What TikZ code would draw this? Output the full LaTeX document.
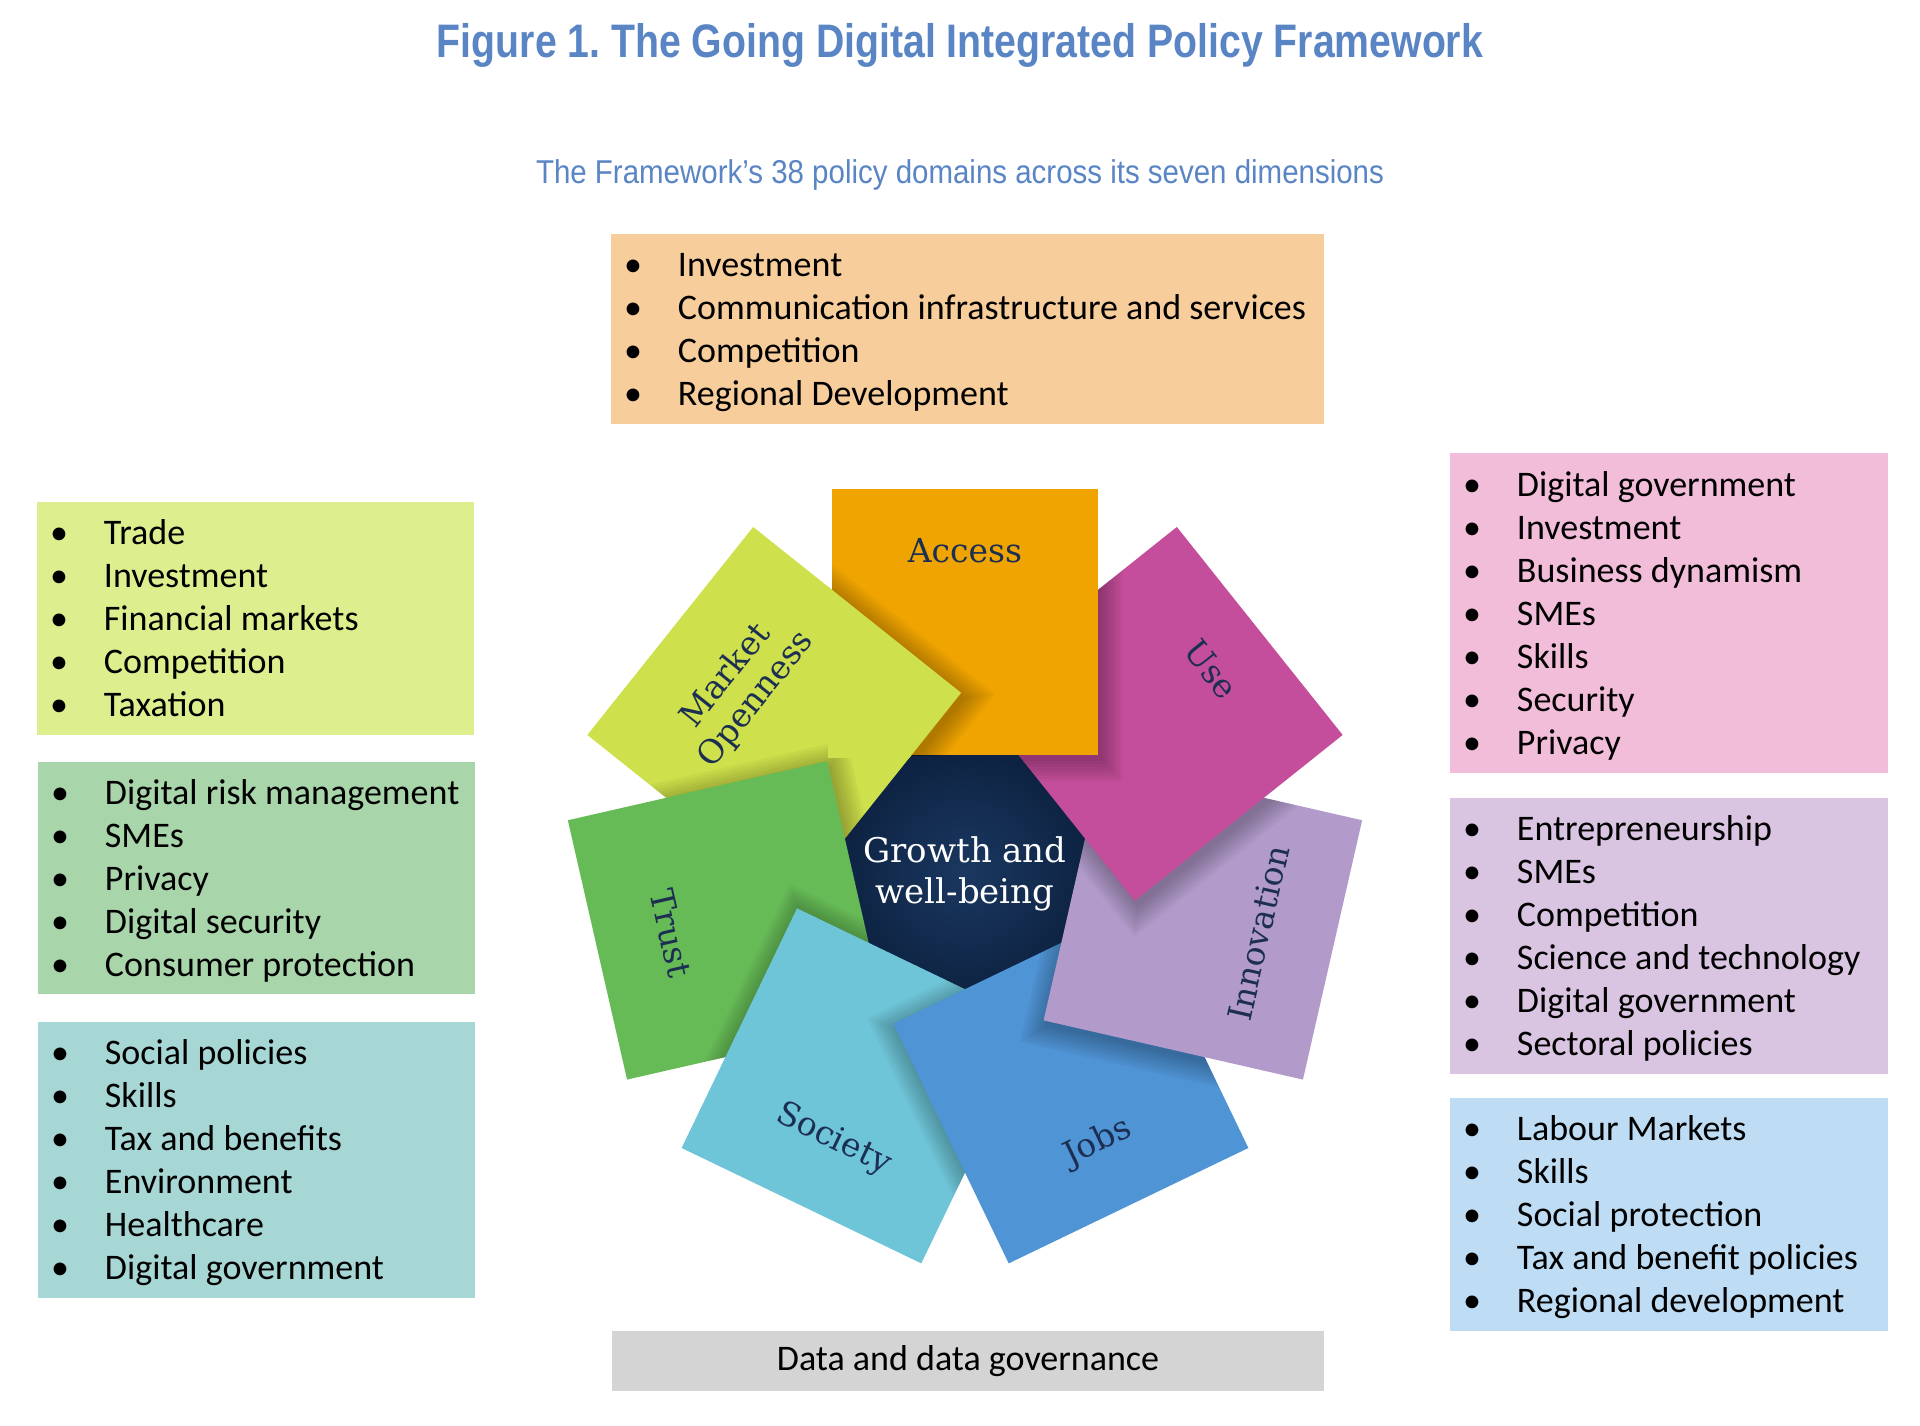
\documentclass[tikz,border=0pt]{standalone}
\usepackage{fontspec}
\usepackage{graphicx}
\setmainfont{Carlito}
\newfontfamily\headfont{Liberation Sans}
\newfontfamily\slabfont{DejaVu Serif}
\usetikzlibrary{calc,shapes.geometric,backgrounds}
\definecolor{titleblue}{HTML}{5A85C5}
\definecolor{cAccess}{HTML}{F0A402}
\definecolor{cUse}{HTML}{C54E9C}
\definecolor{cInno}{HTML}{B29BCB}
\definecolor{cJobs}{HTML}{4F94D5}
\definecolor{cSoc}{HTML}{6EC5D8}
\definecolor{cTrust}{HTML}{67BB57}
\definecolor{cMO}{HTML}{CEE04B}
\definecolor{cNavyIn}{HTML}{1A3860}
\definecolor{cNavyOut}{HTML}{0E2343}
\definecolor{cLab}{HTML}{1C2F52}
\definecolor{bTopc}{HTML}{F7CD9B}
\definecolor{bMOc}{HTML}{DDEE8E}
\definecolor{bTrustc}{HTML}{A9D5AB}
\definecolor{bSocc}{HTML}{A7D7D5}
\definecolor{bUsec}{HTML}{F2BDD9}
\definecolor{bInnoc}{HTML}{D9C4E1}
\definecolor{bJobsc}{HTML}{BEDDF5}
\definecolor{bDatac}{HTML}{D4D4D4}
\newlength\bw
\newcommand\blist[1]{\fontsize{36}{43}\selectfont\settowidth{\bw}{\textbullet}%
  \begin{tabular}[t]{@{}l@{\hspace{\dimexpr54pt-\bw\relax}}l@{}}#1\end{tabular}}
\newcommand\bi{\textbullet&}
\def\Cx{965}\def\Cy{866}\def\Rr{244}
% soft shadow of upper square (#1 centre, #2 rotation) falling on lower square (#3 centre, #4 rotation)
\newcommand\sqshadow[4]{%
  \begin{scope}
    \clip[shift={(#3)}, rotate=#4] (-133,-133) rectangle (133,133);
    \foreach \d in {1,4,...,22} {
      \fill[black, opacity=0.035, shift={(#1)}, shift={(3,5)}, rotate=#2] (-133-\d,-133-\d) rectangle (133+\d,133+\d);
    }
  \end{scope}}
\begin{document}
\begin{tikzpicture}[x=1pt,y=-1pt,
  sq/.style={minimum size=266pt, inner sep=0pt, outer sep=0pt, draw=none},
  lab/.style={font=\slabfont\fontsize{33}{38}\selectfont, text=cLab, inner sep=0pt, align=center},
  hubt/.style={font=\slabfont\fontsize{34}{41}\selectfont, text=white, inner sep=0pt, anchor=base},
  box/.style={anchor=north west, inner sep=0pt, outer sep=0pt},
  listtext/.style={anchor=base west, inner sep=0pt, outer sep=0pt, text=black},
  conn/.style={draw=black!65, line width=1.4pt}]
\useasboundingbox[fill=white] (0,0) rectangle (1920,1425);

% titles
\node[anchor=base, text=titleblue, inner sep=0pt] (title) at (960,57)
  {\headfont\bfseries\fontsize{47}{50}\selectfont\resizebox{1046pt}{\height}{Figure 1.\ The Going Digital Integrated Policy Framework}};
\node[anchor=base, text=titleblue, inner sep=0pt] (subtitle) at (960,183)
  {\headfont\fontsize{33}{36}\selectfont\resizebox{848pt}{\height}{The Framework’s 38 policy domains across its seven dimensions}};

% list boxes
\node[box, fill=bTopc, minimum width=713pt, minimum height=190pt] (bTop) at (611,234) {};
\node[listtext] (tTop) at ($(bTop.north west)+(13,42)$) {\blist{\bi Investment\\ \bi Communication infrastructure and services\\ \bi Competition\\ \bi Regional Development}};

\node[box, fill=bMOc, minimum width=437pt, minimum height=233pt] (bMO) at (37,502) {};
\node[listtext] (tMO) at ($(bMO.north west)+(13,42)$) {\blist{\bi Trade\\ \bi Investment\\ \bi Financial markets\\ \bi Competition\\ \bi Taxation}};

\node[box, fill=bTrustc, minimum width=437pt, minimum height=232pt] (bTrust) at (38,762) {};
\node[listtext] (tTrust) at ($(bTrust.north west)+(13,42)$) {\blist{\bi Digital risk management\\ \bi SMEs\\ \bi Privacy\\ \bi Digital security\\ \bi Consumer protection}};

\node[box, fill=bSocc, minimum width=437pt, minimum height=276pt] (bSoc) at (38,1022) {};
\node[listtext] (tSoc) at ($(bSoc.north west)+(13,42)$) {\blist{\bi Social policies\\ \bi Skills\\ \bi Tax and benefits\\ \bi Environment\\ \bi Healthcare\\ \bi Digital government}};

\node[box, fill=bUsec, minimum width=438pt, minimum height=320pt] (bUse) at (1450,453) {};
\node[listtext] (tUse) at ($(bUse.north west)+(13,43)$) {\blist{\bi Digital government\\ \bi Investment\\ \bi Business dynamism\\ \bi SMEs\\ \bi Skills\\ \bi Security\\ \bi Privacy}};

\node[box, fill=bInnoc, minimum width=438pt, minimum height=276pt] (bInno) at (1450,798) {};
\node[listtext] (tInno) at ($(bInno.north west)+(13,42)$) {\blist{\bi Entrepreneurship\\ \bi SMEs\\ \bi Competition\\ \bi Science and technology\\ \bi Digital government\\ \bi Sectoral policies}};

\node[box, fill=bJobsc, minimum width=438pt, minimum height=233pt] (bJobs) at (1450,1098) {};
\node[listtext] (tJobs) at ($(bJobs.north west)+(13,42)$) {\blist{\bi Labour Markets\\ \bi Skills\\ \bi Social protection\\ \bi Tax and benefit policies\\ \bi Regional development}};

\node[box, fill=bDatac, minimum width=712pt, minimum height=60pt] (bData) at (612,1331) {};
\node[inner sep=0pt] (tData) at (bData.center) {\fontsize{36}{42}\selectfont Data and data governance};

% hub
\node[regular polygon, regular polygon sides=7, minimum size=248pt, inner sep=0pt,
  shading=radial, inner color=cNavyIn, outer color=cNavyOut, shape border rotate=25.71] (hub) at (\Cx,\Cy) {};

% square centres
\coordinate (pAccess) at (\Cx,{\Cy-\Rr});
\coordinate (pUse) at ({\Cx+\Rr*sin(51.43)},{\Cy-\Rr*cos(51.43)});
\coordinate (pInno) at ({\Cx+\Rr*sin(102.86)},{\Cy-\Rr*cos(102.86)});
\coordinate (pJobs) at ({\Cx+\Rr*sin(154.29)},{\Cy-\Rr*cos(154.29)});
\coordinate (pSoc) at ({\Cx+\Rr*sin(205.71)},{\Cy-\Rr*cos(205.71)});
\coordinate (pTrust) at ({\Cx+\Rr*sin(257.14)},{\Cy-\Rr*cos(257.14)});
\coordinate (pMO) at ({\Cx+\Rr*sin(308.57)},{\Cy-\Rr*cos(308.57)});

% squares (cyclic overlap) with soft shadows
\node[sq, fill=cMO, rotate=51.43] (sqMO) at (pMO) {};
\sqshadow{pTrust}{-77.14}{pMO}{51.43}
\node[sq, fill=cTrust, rotate=-77.14] (sqTrust) at (pTrust) {};
\sqshadow{pSoc}{-25.71}{pTrust}{-77.14}
\node[sq, fill=cSoc, rotate=-25.71] (sqSoc) at (pSoc) {};
\sqshadow{pJobs}{25.71}{pSoc}{-25.71}
\node[sq, fill=cJobs, rotate=25.71] (sqJobs) at (pJobs) {};
\sqshadow{pInno}{77.14}{pJobs}{25.71}
\node[sq, fill=cInno, rotate=77.14] (sqInno) at (pInno) {};
\sqshadow{pUse}{-51.43}{pInno}{77.14}
\node[sq, fill=cUse, rotate=-51.43] (sqUse) at (pUse) {};
\sqshadow{pAccess}{0}{pUse}{-51.43}
\node[sq, fill=cAccess] (sqAccess) at (pAccess) {};
\begin{scope}
  \clip (828,400) rectangle (1000,757);
  \sqshadow{pMO}{51.43}{pAccess}{0}
  \node[sq, fill=cMO, rotate=51.43] (sqMOb) at (pMO) {};
\end{scope}

% labels
\node[lab] (lAccess) at (\Cx,{\Cy-\Rr-71}) {Access};
\node[lab, rotate=-51.43] (lUse) at ({\Cx+(\Rr+71)*sin(51.43)},{\Cy-(\Rr+71)*cos(51.43)}) {Use};
\node[lab, rotate=77.14] (lInno) at ({\Cx+(\Rr+57)*sin(102.86)},{\Cy-(\Rr+57)*cos(102.86)}) {Innovation};
\node[lab, rotate=25.71] (lJobs) at ({\Cx+(\Rr+63)*sin(154.29)},{\Cy-(\Rr+63)*cos(154.29)}) {Jobs};
\node[lab, rotate=-25.71] (lSoc) at ({\Cx+(\Rr+60)*sin(205.71)},{\Cy-(\Rr+60)*cos(205.71)}) {Society};
\node[lab, rotate=-77.14] (lTrust) at ({\Cx+(\Rr+58)*sin(257.14)},{\Cy-(\Rr+58)*cos(257.14)}) {Trust};
\node[lab, rotate=51.43] (lMO) at ({\Cx+(\Rr+42)*sin(308.57)},{\Cy-(\Rr+42)*cos(308.57)}) {Market\\Openness};
\node[hubt] (hubA) at (\Cx,862) {Growth and};
\node[hubt] (hubB) at (\Cx,903) {well-being};

% connectors behind everything
\coordinate (yA) at (0,618);
\coordinate (yB) at (0,905);
\coordinate (yC) at (0,1111);
\coordinate (yD) at (0,1109);
\begin{pgfonlayer}{background}
\draw[conn] (bTop.south) -- (bTop.south |- sqAccess.center);
\draw[conn] (bMO.east |- yA) -- (sqMO.center |- yA);
\draw[conn] (bTrust.east |- yB) -- (sqTrust.center |- yB);
\draw[conn] (bSoc.east |- yC) -- (sqSoc.center |- yC);
\draw[conn] (bUse.west |- yA) -- (sqUse.center |- yA);
\draw[conn] (bInno.west |- yB) -- (sqInno.center |- yB);
\draw[conn] (bJobs.west |- yD) -- (sqJobs.center |- yD);
\end{pgfonlayer}
\end{tikzpicture}
\end{document}
